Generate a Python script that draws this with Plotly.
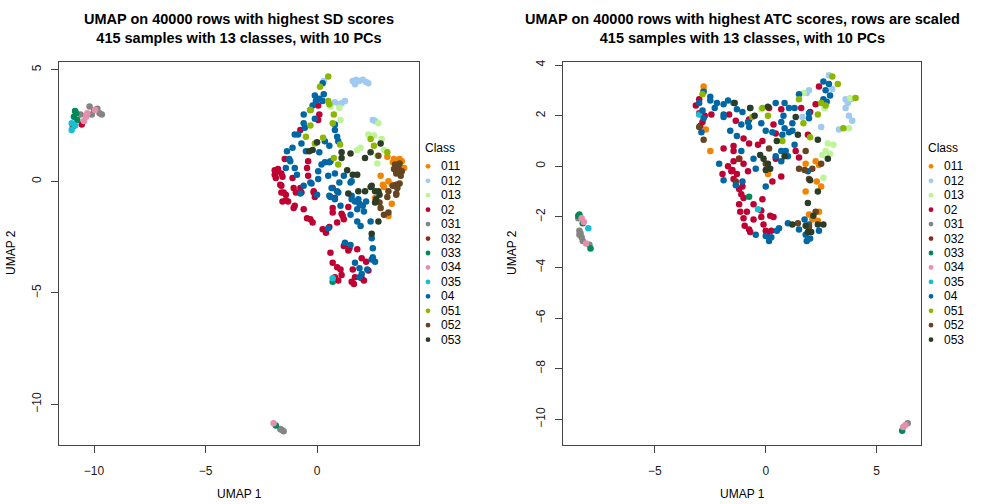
import plotly.graph_objects as go

W, H = 1008, 504

classes = ["011", "012", "013", "02", "031", "032", "033", "034", "035", "04", "051", "052", "053"]
colors = ["#F38400", "#A1CAF1", "#BDF495", "#BE0032", "#848482", "#882D17", "#008856",
          "#E68FAC", "#16BFD6", "#0067A5", "#8DB600", "#654522", "#2B3D26"]

# ---------------- Left: SD scores ----------------
sd = {
"011": [(3.15,1.1),(3.45,1.0),(3.7,1.0),(3.4,0.85),(3.6,0.75),(3.9,0.6),(2.85,0.25),(3.0,-0.25),(3.2,0.0),
        (2.6,-0.75),(2.95,-0.15),(3.35,-0.15),(3.35,-1.0),(3.2,-1.55),(3.8,0.9)],
"012": [(1.6,4.5),(1.75,4.55),(1.9,4.5),(2.05,4.55),(2.2,4.45),(2.3,4.4),(1.7,4.35),(0.3,4.5),(0.8,3.55),
        (1.1,3.5),(1.25,3.6),(2.6,2.7),(1.0,3.45),(2.5,2.75)],
"013": [(0.6,3.35),(1.0,3.3),(1.05,2.75),(2.75,2.6),(2.3,2.1),(2.9,1.9),(3.0,1.4),(1.8,1.4),(1.95,1.5),
        (2.7,1.15),(2.7,0.8),(2.55,2.05)],
"02": [(0.05,3.4),(0.1,3.0),(0.05,2.75),(-0.75,2.3),(-0.4,0.9),(-0.45,0.6),(-1.9,0.5),(-1.75,0.55),(-1.6,0.35),
       (-1.9,0.3),(-1.55,0.2),(-1.85,0.15),(-1.45,1.0),(-1.1,0.15),(-0.4,0.25),(-0.15,-0.5),(-0.1,-0.7),
       (-1.05,-0.3),(-1.6,-0.2),(-1.6,-0.5),(-1.4,-0.6),(-1.4,-0.85),(-1.65,-0.15),(-1.5,-0.5),(-1.55,-0.9),
       (-1.3,-0.9),(-1.05,-1.2),(-1.0,-1.1),(-0.95,-0.5),(-0.75,-0.3),(-0.7,-0.5),(-0.6,-1.25),(-0.45,-1.65),
       (-0.2,-1.85),(-0.3,-1.7),(-0.15,-0.45),(0.25,-2.15),(0.4,-2.3),(0.55,-2.05),(0.7,-0.3),(0.8,-0.75),
       (0.7,-1.2),(0.7,-1.4),(0.9,-1.85),(1.15,-1.55),(1.2,-1.7),(1.1,-1.45),(1.4,-1.15),(2.2,-3.6),(2.3,-4.0),
       (2.0,-3.45),(1.6,-3.95),(1.7,-4.3),(1.55,-4.5),(1.65,-4.6),(2.0,-4.35),(2.1,-4.45),(1.2,-2.9),(1.4,-3.1),
       (1.45,-3.0),(1.8,-3.05),(0.6,-3.2),(0.7,-3.65),(0.9,-3.85),(1.05,-3.95),(1.1,-4.2),(0.95,-4.45),
       (0.8,-4.3),(-1.8,0.45),(-10.55,2.55)],
"031": [(-10.6,3.0),(-10.2,3.35),(-10.0,3.2),(-9.75,3.05),(-9.65,3.0),(-10.1,3.0),(-9.85,3.25),
        (-1.65,-11.1),(-1.5,-11.2),(-1.58,-11.15)],
"032": [(-10.95,2.45)],
"033": [(-10.85,3.15),(-10.9,2.9),(-10.75,2.75),(-10.8,3.05),(-1.85,-10.95),(0.7,-4.5)],
"034": [(-10.3,3.05),(-10.45,2.7),(-9.95,3.2),(-10.35,2.9),(-1.95,-10.85)],
"035": [(-11.0,2.6),(-11.0,2.3),(-10.85,2.5),(0.7,-4.35)],
"04": [(0.25,4.4),(0.3,3.9),(-0.1,3.85),(0.1,3.7),(0.25,3.6),(-0.05,3.6),(-0.2,3.4),(-0.3,3.2),(-0.1,2.8),
       (-0.6,3.0),(0.8,2.55),(-0.6,2.6),(-0.55,2.4),(0.8,2.3),(-1.0,2.1),(-0.85,2.1),(-0.7,1.7),(0.35,1.8),
       (0.55,1.6),(0.9,2.0),(0.95,1.8),(0.1,1.3),(-0.5,1.35),(-1.35,1.35),(-1.1,1.5),(-1.25,1.0),(0.6,0.9),
       (0.35,0.85),(0.55,0.85),(0.2,0.75),(-1.0,0.6),(-1.4,0.6),(-1.2,0.9),(-0.9,0.3),(0.05,0.45),(0.05,0.1),
       (0.5,0.25),(0.8,0.35),(1.0,-0.05),(1.2,0.25),(1.5,-0.05),(0.65,-0.3),(0.95,-0.5),(0.6,-0.7),(0.8,-0.8),
       (1.55,-0.8),(1.85,-0.8),(-0.25,-0.1),(-0.6,-0.2),(-0.75,-0.55),(0.0,-0.6),(-0.3,-0.05),(0.5,-2.1),
       (0.55,-0.65),(0.9,-0.45),(1.05,-1.1),(1.5,-1.5),(1.55,-0.65),(1.7,-0.9),(1.9,-1.0),(2.05,-1.1),
       (2.2,-0.9),(1.8,-1.25),(2.1,-1.35),(1.8,-1.8),(1.95,-2.0),(2.4,-1.8),(2.45,-2.55),(2.5,-3.0),(2.5,-3.4),
       (2.6,-3.6),(2.45,-3.5),(2.25,-3.95),(1.7,-3.65),(1.9,-3.9),(2.0,-4.15),(1.9,-4.3),(1.25,-2.75),
       (1.5,-2.85),(1.55,0.0)],
"051": [(0.5,4.7),(0.13,4.24),(0.5,3.6),(0.55,3.45),(-0.3,3.2),(0.75,3.0),(0.7,2.6),(-0.3,2.5),(-0.5,2.0),
        (0.27,1.95),(1.03,1.65),(-0.1,1.7),(2.4,1.9),(2.55,1.6),(3.15,1.3),(0.75,1.05),(0.95,0.75)],
"052": [(3.5,0.75),(3.65,0.6),(3.8,0.45),(3.55,0.35),(3.75,0.25),(3.45,0.55),(3.7,0.8),(2.75,1.15),(3.4,-0.2),
        (3.6,-0.3),(3.7,-0.1),(3.15,-0.7),(3.55,-0.55),(2.8,-0.95),(2.85,-1.2),(3.0,-1.5),(3.2,-1.4),
        (3.2,-0.45),(3.55,-0.15),(3.55,-0.6)],
"053": [(-0.2,1.4),(-0.35,1.35),(0.0,1.75),(1.5,1.25),(1.1,1.3),(1.1,1.05),(2.85,1.7),(2.4,1.3),(2.15,1.05),
        (1.35,0.5),(1.6,0.3),(1.8,0.3),(2.45,-0.2),(2.75,-0.45),(2.15,-0.45),(1.85,-0.45),(2.8,-0.6),
        (1.4,-0.55),(2.4,-0.25),(2.6,-0.45),(2.65,-0.8),(2.6,-0.95),(2.75,-1.8),(2.45,-2.35)],
}

# ---------------- Right: ATC scores ----------------
atc = {
"011": [(-2.8,3.15),(-2.8,3.0),(-2.7,1.45),(-2.5,0.6),(2.25,0.2),(2.4,0.05),(1.8,0.1),(0.1,-0.3),(1.95,-1.9),
        (2.1,-2.1),(2.4,-1.8),(2.35,-2.15),(1.8,-1.0),(2.3,-0.6),(2.5,-0.8),(0.1,-0.2)],
"012": [(1.95,3.0),(1.85,2.9),(2.85,3.6),(3.0,3.05),(3.6,2.65),(3.85,2.65),(3.6,2.3),(3.75,2.0),(3.9,1.8),
        (3.3,1.45),(2.5,1.55),(1.65,1.95),(3.7,2.5)],
"013": [(1.7,2.9),(2.65,2.3),(3.8,2.7),(3.75,1.5),(2.8,0.9),(3.05,0.85),(2.7,0.6),(2.9,0.5),(2.55,0.45),
        (2.6,-0.45),(-0.2,2.25)],
"02": [(-3.15,2.4),(-3.0,2.65),(-3.0,2.1),(-2.75,2.0),(-2.45,2.05),(-2.85,1.75),(-2.95,1.6),(-1.65,2.05),
       (-1.35,1.8),(-1.0,1.1),(-0.75,1.85),(0.15,2.3),(0.35,1.65),(0.7,2.25),(1.6,2.3),(2.4,3.15),(2.25,2.45),
       (2.0,2.15),(0.45,1.3),(1.9,1.25),(0.45,0.3),(1.35,0.6),(1.5,0.35),(-0.8,-0.2),(-1.45,0.6),(-1.45,0.2),
       (-1.2,0.3),(-1.0,0.1),(-1.45,0.8),(-1.9,0.7),(-1.95,-0.3),(-1.55,-0.2),(-1.7,0.0),(-0.35,0.85),
       (-0.75,0.9),(-0.15,1.0),(-1.5,-0.15),(-1.45,-0.5),(-1.05,-0.8),(-1.1,-1.1),(-1.0,-1.25),(-0.55,-1.5),
       (-0.2,-1.75),(-0.2,-2.0),(-1.15,-1.8),(-0.85,-1.8),(-0.55,-2.1),(-1.0,-2.05),(-0.95,-2.35),(-0.75,-2.5),
       (-0.7,-2.6),(-0.15,-1.3),(0.2,-1.95),(0.35,-2.0),(-0.1,-2.3),(0.0,-2.55),(0.05,-2.65),(0.25,-2.55),
       (0.3,-0.6),(0.7,-0.4),(-1.2,-0.9),(-1.2,-1.5),(-1.3,-0.3)],
"031": [(-8.45,-2.05),(-8.4,-2.55),(-8.3,-2.8),(-8.25,-2.95),(-8.4,-2.7),(-7.95,-3.1),(-8.35,-2.65),(6.4,-10.15)],
"032": [(-1.2,0.3),(-1.35,-0.6)],
"033": [(-8.4,-1.9),(-8.25,-2.25),(-7.9,-3.25),(-8.45,-1.95),(6.15,-10.45),(-0.75,-1.2)],
"034": [(-8.3,-2.05),(-8.1,-3.05),(-8.2,-2.2),(6.2,-10.3),(6.3,-10.22)],
"035": [(-8.0,-2.45),(-3.0,2.05),(-0.35,-1.7)],
"04": [(-2.8,2.95),(-2.5,2.75),(-3.0,2.5),(-2.5,2.6),(-2.2,2.5),(-1.9,2.45),(-2.85,2.2),(-2.8,1.9),(-2.9,1.35),
       (-1.9,2.05),(-1.9,1.95),(-1.45,2.5),(-1.3,2.25),(-1.05,2.15),(-0.8,1.75),(-0.75,1.55),(-1.1,1.65),
       (-1.6,1.4),(-1.3,1.2),(-0.7,2.3),(-0.2,1.7),(0.0,1.4),(0.3,1.35),(0.45,2.5),(0.85,2.5),(0.8,2.0),
       (1.05,2.3),(1.3,2.3),(1.5,2.85),(2.6,3.35),(2.85,3.25),(2.7,3.0),(2.9,2.8),(2.6,2.65),(2.75,2.55),
       (1.95,2.1),(1.95,1.9),(1.2,1.7),(0.7,1.75),(0.85,1.5),(1.05,1.35),(0.75,1.25),(1.2,1.4),(1.3,0.85),
       (0.7,0.6),(0.9,0.6),(0.45,0.4),(0.7,0.2),(1.0,0.4),(-0.55,0.3),(-0.45,-0.1),(-2.1,0.1),(-1.9,-0.55),
       (-1.1,0.6),(1.9,-0.2),(-1.05,-0.6),(-1.35,-0.75),(-0.45,-2.7),(0.0,-2.75),(0.15,-2.95),(0.25,-2.8),
       (0.5,-2.55),(0.6,-2.45),(0.0,-0.8),(1.0,-2.25),(1.5,-2.5),(1.75,-2.1),(1.95,-2.3),(1.8,-2.7),(2.0,-2.85),
       (1.85,-2.95),(2.4,-2.55),(-1.7,2.6),(-2.3,2.3)],
"051": [(-2.85,2.85),(-0.15,2.3),(-0.6,1.95),(0.1,2.0),(1.5,2.65),(3.0,3.55),(3.25,3.25),(2.5,2.5),(2.7,2.4),
        (2.35,2.05),(4.05,2.7),(3.5,1.5),(1.7,1.7),(2.0,1.15),(0.75,1.0)],
"052": [(-3.0,1.55),(-2.8,1.05),(2.5,0.1),(2.1,-0.1),(1.75,-0.15),(1.5,-0.1),(0.15,0.7),(1.8,0.6),(0.0,0.1),
        (1.95,-0.5),(1.45,-2.25),(2.25,-1.8),(1.95,-2.4)],
"053": [(-1.4,2.5),(-0.7,2.3),(-0.5,2.0),(0.1,2.35),(1.35,1.95),(1.45,1.25),(2.35,1.05),(2.8,0.3),(0.5,1.0),
        (0.85,0.4),(-0.1,0.3),(0.1,0.1),(0.0,-0.15),(0.2,-0.1),(1.2,-2.3),(1.8,-2.35),(1.9,-2.6),(2.05,-2.6),
        (1.9,-1.45),(2.35,-1.0),(2.0,-0.55),(2.15,-1.95),(2.35,-2.3),(2.6,-2.3),(-0.25,0.45)],
}

titles = ["UMAP on 40000 rows with highest SD scores<br>415 samples with 13 classes, with 10 PCs",
          "UMAP on 40000 rows with highest ATC scores, rows are scaled<br>415 samples with 13 classes, with 10 PCs"]
left_xticks = [-10, -5, 0]
left_yticks = [5, 0, -5, -10]
right_xticks = [-5, 0, 5]
right_yticks = [4, 2, 0, -2, -4, -6, -8, -10]

FONT = "Liberation Sans, Arial, Helvetica, sans-serif"

fig = go.Figure()

def add_points(data, xa, ya):
    for cls, col in zip(classes, colors):
        pts = data.get(cls, [])
        fig.add_trace(go.Scatter(
            x=[p[0] for p in pts], y=[p[1] for p in pts], mode="markers",
            marker=dict(color=col, size=6.5, line=dict(width=0)),
            name=cls, showlegend=False, xaxis=xa, yaxis=ya, hoverinfo="x+y+name"))

add_points(sd, "x", "y")
add_points(atc, "x2", "y2")

# panel geometry in page pixels (page body margin removed below)
L1, R1 = 59, 419
L2, R2 = 563, 921
TOP, BOT = 60, 445

def px(v):
    return v / W

def py(v):
    return 1 - v / H

axis_common = dict(showline=True, linecolor="#444444", linewidth=1, mirror=True,
                   ticks="outside", ticklen=7, tickcolor="#444444", showgrid=False,
                   zeroline=False, tickfont=dict(family=FONT, size=12, color="#1a1a1a"))

fig.update_layout(
    width=W, height=H, margin=dict(l=0, r=0, t=0, b=0),
    plot_bgcolor="white", paper_bgcolor="white",
    xaxis=dict(domain=[px(L1), px(R1)], range=[-11.57, 4.57], tickvals=left_xticks, anchor="y",
               ticklabelstandoff=7, **axis_common),
    yaxis=dict(domain=[py(BOT), py(TOP)], range=[-11.83, 5.36], tickvals=left_yticks, anchor="x",
               tickangle=-90, ticklabelstandoff=5, **axis_common),
    xaxis2=dict(domain=[px(L2), px(R2)], range=[-9.14, 7.0], tickvals=right_xticks, anchor="y2",
                ticklabelstandoff=7, **axis_common),
    yaxis2=dict(domain=[py(BOT), py(TOP)], range=[-11.02, 4.13], tickvals=right_yticks, anchor="x2",
                tickangle=-90, ticklabelstandoff=5, **axis_common),
    font=dict(family=FONT, color="#000000"),
)

ann = []
# titles
for cx, t in [((L1 + R1) / 2, titles[0]), ((L2 + R2) / 2, titles[1])]:
    ann.append(dict(x=px(cx), y=py(27), xref="paper", yref="paper", text="<b>" + t + "</b>",
                    showarrow=False, xanchor="center", yanchor="middle",
                    font=dict(family=FONT, size=14.5, color="#000000")))
# axis titles
for cx in [(L1 + R1) / 2, (L2 + R2) / 2]:
    ann.append(dict(x=px(cx), y=py(494), xref="paper", yref="paper", text="UMAP 1", showarrow=False,
                    xanchor="center", yanchor="middle", font=dict(family=FONT, size=12, color="#000000")))
for cx in [11, 512]:
    ann.append(dict(x=px(cx), y=py(252), xref="paper", yref="paper", text="UMAP 2", showarrow=False,
                    textangle=-90, xanchor="center", yanchor="middle",
                    font=dict(family=FONT, size=12, color="#000000")))

# legends
shapes = []
for lx in [423, 926]:
    ann.append(dict(x=px(lx), y=py(147), xref="paper", yref="paper", text="Class", showarrow=False,
                    xanchor="left", yanchor="middle", font=dict(family=FONT, size=12, color="#000000")))
    for i, (cls, col) in enumerate(zip(classes, colors)):
        yy = 165 + 14.5 * i
        mx = lx + 5
        r = 2.4
        shapes.append(dict(type="circle", xref="paper", yref="paper",
                           x0=px(mx - r), x1=px(mx + r), y0=py(yy + r), y1=py(yy - r),
                           fillcolor=col, line=dict(width=0)))
        ann.append(dict(x=px(lx + 16), y=py(yy), xref="paper", yref="paper", text=cls, showarrow=False,
                        xanchor="left", yanchor="middle", font=dict(family=FONT, size=12, color="#000000")))

fig.update_layout(annotations=ann, shapes=shapes)
fig.write_html("out.html", config={"displayModeBar": False},
               post_script="document.body.style.margin='0';document.body.style.padding='0';")
